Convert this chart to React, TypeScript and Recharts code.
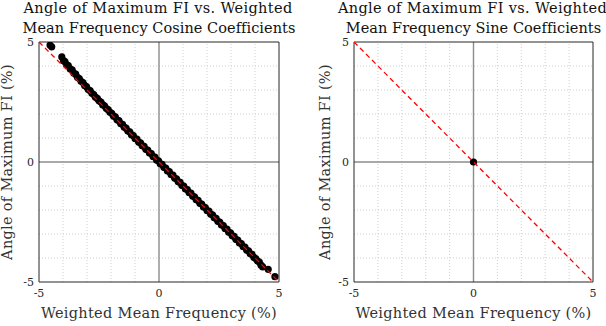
import {
  ReferenceLine,
  Scatter,
  ScatterChart,
  XAxis,
  YAxis,
} from 'recharts';

type Pt = { x: number; y: number };

// Weighted mean frequency (%) vs angle of maximum FI (%), cosine coefficients
const COSINE_POINTS: Pt[] = [
  { x: -4.54, y: 4.87 }, { x: -4.47, y: 4.8 }, { x: -4.05, y: 4.38 }, { x: -3.98, y: 4.22 },
  { x: -3.92, y: 4.18 }, { x: -3.85, y: 4.06 }, { x: -3.78, y: 4.02 }, { x: -3.7, y: 3.88 },
  { x: -3.62, y: 3.84 }, { x: -3.55, y: 3.7 }, { x: -3.47, y: 3.66 }, { x: -3.4, y: 3.53 },
  { x: -3.32, y: 3.48 }, { x: -3.25, y: 3.36 }, { x: -3.17, y: 3.31 }, { x: -3.1, y: 3.19 },
  { x: -3.02, y: 3.14 }, { x: -2.95, y: 3.02 }, { x: -2.87, y: 2.97 }, { x: -2.8, y: 2.86 },
  { x: -2.72, y: 2.81 }, { x: -2.65, y: 2.7 }, { x: -2.57, y: 2.65 }, { x: -2.5, y: 2.55 },
  { x: -2.42, y: 2.5 }, { x: -2.35, y: 2.39 }, { x: -2.27, y: 2.34 }, { x: -2.2, y: 2.24 },
  { x: -2.12, y: 2.18 }, { x: -2.05, y: 2.08 }, { x: -1.97, y: 2.03 }, { x: -1.9, y: 1.92 },
  { x: -1.82, y: 1.88 }, { x: -1.75, y: 1.76 }, { x: -1.67, y: 1.72 }, { x: -1.6, y: 1.6 },
  { x: -1.52, y: 1.57 }, { x: -1.45, y: 1.45 }, { x: -1.37, y: 1.41 }, { x: -1.3, y: 1.29 },
  { x: -1.22, y: 1.26 }, { x: -1.15, y: 1.14 }, { x: -1.07, y: 1.1 }, { x: -1.0, y: 0.98 },
  { x: -0.92, y: 0.95 }, { x: -0.85, y: 0.83 }, { x: -0.77, y: 0.8 }, { x: -0.7, y: 0.68 },
  { x: -0.62, y: 0.65 }, { x: -0.55, y: 0.53 }, { x: -0.47, y: 0.5 }, { x: -0.4, y: 0.38 },
  { x: -0.32, y: 0.35 }, { x: -0.25, y: 0.23 }, { x: -0.17, y: 0.2 }, { x: -0.1, y: 0.08 },
  { x: -0.02, y: 0.05 }, { x: 0.05, y: -0.07 }, { x: 0.13, y: -0.1 }, { x: 0.2, y: -0.22 },
  { x: 0.28, y: -0.25 }, { x: 0.35, y: -0.37 }, { x: 0.43, y: -0.4 }, { x: 0.5, y: -0.52 },
  { x: 0.58, y: -0.55 }, { x: 0.65, y: -0.67 }, { x: 0.73, y: -0.7 }, { x: 0.8, y: -0.82 },
  { x: 0.88, y: -0.85 }, { x: 0.95, y: -0.97 }, { x: 1.03, y: -1.0 }, { x: 1.1, y: -1.12 },
  { x: 1.18, y: -1.15 }, { x: 1.25, y: -1.27 }, { x: 1.33, y: -1.3 }, { x: 1.4, y: -1.42 },
  { x: 1.48, y: -1.45 }, { x: 1.55, y: -1.57 }, { x: 1.63, y: -1.6 }, { x: 1.7, y: -1.72 },
  { x: 1.78, y: -1.75 }, { x: 1.85, y: -1.87 }, { x: 1.93, y: -1.9 }, { x: 2.0, y: -2.02 },
  { x: 2.08, y: -2.05 }, { x: 2.15, y: -2.17 }, { x: 2.23, y: -2.2 }, { x: 2.3, y: -2.32 },
  { x: 2.38, y: -2.35 }, { x: 2.45, y: -2.47 }, { x: 2.53, y: -2.5 }, { x: 2.6, y: -2.62 },
  { x: 2.68, y: -2.65 }, { x: 2.75, y: -2.77 }, { x: 2.83, y: -2.8 }, { x: 2.9, y: -2.92 },
  { x: 2.98, y: -2.95 }, { x: 3.05, y: -3.07 }, { x: 3.13, y: -3.1 }, { x: 3.2, y: -3.22 },
  { x: 3.28, y: -3.25 }, { x: 3.35, y: -3.37 }, { x: 3.43, y: -3.4 }, { x: 3.5, y: -3.52 },
  { x: 3.58, y: -3.55 }, { x: 3.65, y: -3.67 }, { x: 3.73, y: -3.7 }, { x: 3.8, y: -3.82 },
  { x: 3.88, y: -3.85 }, { x: 3.95, y: -3.97 }, { x: 4.03, y: -4.02 }, { x: 4.1, y: -4.12 },
  { x: 4.18, y: -4.17 }, { x: 4.25, y: -4.3 }, { x: 4.32, y: -4.37 }, { x: 4.55, y: -4.47 },
  { x: 4.83, y: -4.78 },
];

// sine coefficients collapse to a single point
const SINE_POINTS: Pt[] = [{ x: 0, y: 0 }];

// y = -x reference, drawn dashed red
const IDENTITY_SEGMENT: Pt[] = [{ x: -5, y: 5 }, { x: 5, y: -5 }];

const DOMAIN: [number, number] = [-5, 5];
const AXIS_TICKS = [-5, 0, 5];
const GRID_STEPS = [-4, -3, -2, -1, 1, 2, 3, 4];

const FONT = "'DejaVu Serif', serif";
const INK = '#262626';
const TICK = { fill: INK, fontSize: 11, fontFamily: FONT } as const;
const W = 303;
const H = 326;

function Dot(props: any) {
  return <circle cx={props.cx} cy={props.cy} r={3.6} fill="#000" />;
}

const NoDot = () => <g />;

type PanelProps = {
  data: Pt[];
  title: [string, string];
  left: number;
  right: number;
  ylabelX: number;
};

function Panel({ data, title, left, right, ylabelX }: PanelProps) {
  const cx = left + (W - left - right) / 2;
  return (
    <div style={{ position: 'relative', width: W, height: H }}>
      <ScatterChart width={W} height={H} margin={{ top: 42, right, bottom: 0, left: 0 }}>
        <XAxis
          type="number"
          dataKey="x"
          domain={DOMAIN}
          ticks={AXIS_TICKS}
          allowDataOverflow
          height={44}
          tick={TICK}
          tickLine={false}
          tickSize={5}
          tickMargin={2}
          axisLine={{ stroke: INK }}
        />
        <YAxis
          type="number"
          dataKey="y"
          domain={DOMAIN}
          ticks={AXIS_TICKS}
          allowDataOverflow
          width={left}
          tick={TICK}
          tickLine={false}
          tickSize={4}
          tickMargin={1}
          axisLine={{ stroke: INK }}
        />
        {GRID_STEPS.map((v) => (
          <ReferenceLine key={`gx${v}`} x={v} stroke="#cfcfcf" strokeDasharray="1 2" />
        ))}
        {GRID_STEPS.map((v) => (
          <ReferenceLine key={`gy${v}`} y={v} stroke="#cfcfcf" strokeDasharray="1 2" />
        ))}
        <ReferenceLine x={0} stroke="#8c8c8c" strokeWidth={1.4} />
        <ReferenceLine y={0} stroke="#8c8c8c" strokeWidth={1.4} />
        <ReferenceLine x={5} stroke={INK} />
        <ReferenceLine y={5} stroke={INK} />
        <Scatter data={data} shape={Dot} isAnimationActive={false} />
        <Scatter
          data={IDENTITY_SEGMENT}
          shape={NoDot}
          line={{ stroke: '#ff0000', strokeWidth: 1.3, strokeDasharray: '5 3.5' }}
          isAnimationActive={false}
        />
      </ScatterChart>
      <svg
        width={W}
        height={H}
        style={{ position: 'absolute', left: 0, top: 0, pointerEvents: 'none', fontFamily: FONT }}
        fontSize={14.5}
        letterSpacing={0.3}
      >
        <text x={cx - 1} y={13} textAnchor="middle" fill="#111" letterSpacing={0.35}>{title[0]}</text>
        <text x={cx} y={33} textAnchor="middle" fill="#111" letterSpacing={0.05}>{title[1]}</text>
        <text x={cx} y={318} textAnchor="middle" fill="#333">
          Weighted Mean Frequency (%)
        </text>
        <text
          x={ylabelX}
          y={162}
          textAnchor="middle"
          fill="#333"
          transform={`rotate(-90 ${ylabelX} 162)`}
        >
          Angle of Maximum FI (%)
        </text>
      </svg>
    </div>
  );
}

export default function App() {
  return (
    <div
      style={{
        position: 'absolute',
        left: 0,
        top: 0,
        width: 606,
        height: 326,
        background: '#fff',
        display: 'flex',
      }}
    >
      <Panel
        data={COSINE_POINTS}
        title={['Angle of Maximum FI vs. Weighted', 'Mean Frequency Cosine Coefficients']}
        left={39}
        right={24}
        ylabelX={12}
      />
      <Panel
        data={SINE_POINTS}
        title={['Angle of Maximum FI vs. Weighted', 'Mean Frequency Sine Coefficients']}
        left={51}
        right={13}
        ylabelX={27}
      />
    </div>
  );
}
